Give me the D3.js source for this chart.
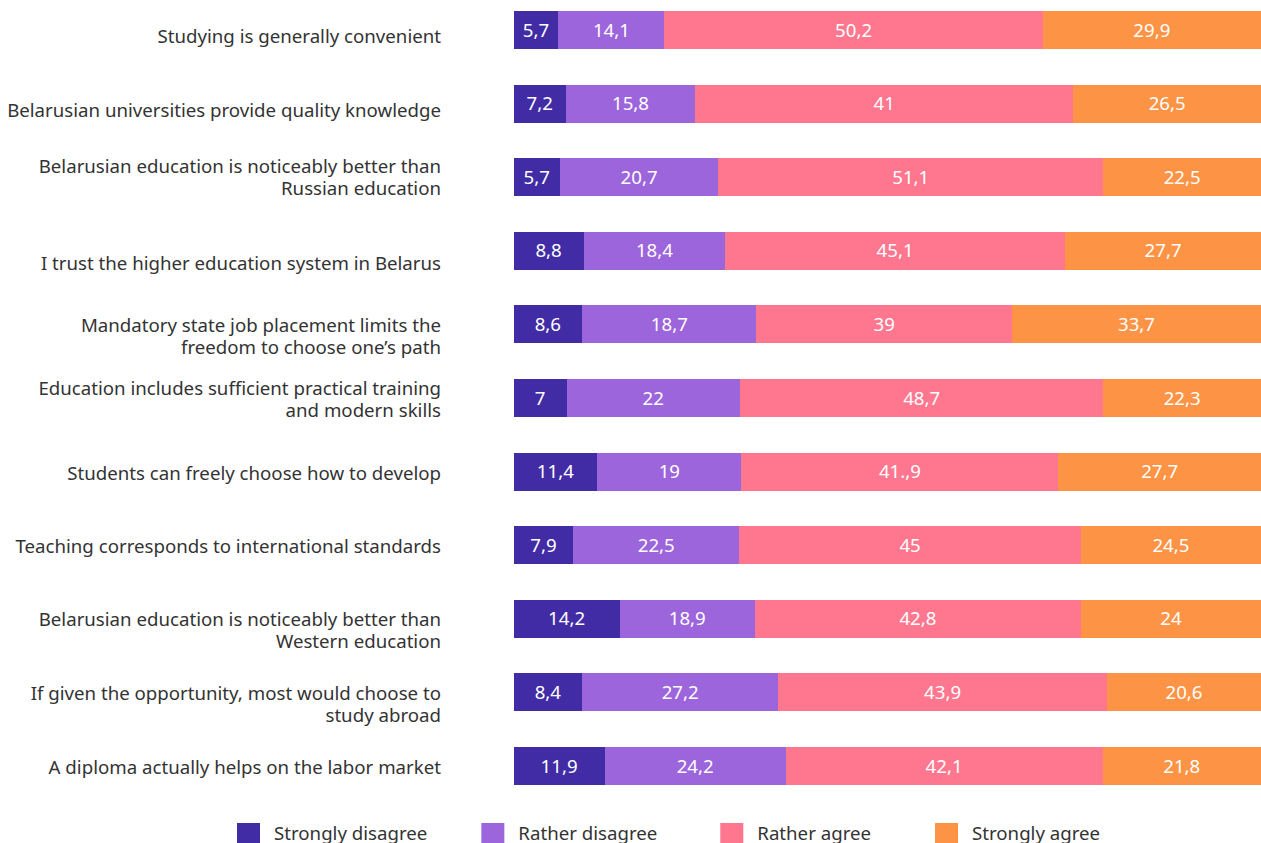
<!DOCTYPE html>
<html>
<head>
<meta charset="utf-8">
<script src="https://cdn.jsdelivr.net/npm/d3@7/dist/d3.min.js"></script>
<style>
  html, body { margin: 0; padding: 0; background: #ffffff; }
  svg { display: block; font-family: "Noto Sans", "Open Sans", sans-serif; }
</style>
</head>
<body>
<svg id="chart" width="1261" height="843"></svg>
<script>
// ---------- DATA ----------
const categories = [
  "Studying is generally convenient",
  "Belarusian universities provide quality knowledge",
  "Belarusian education is noticeably better than\nRussian education",
  "I trust the higher education system in Belarus",
  "Mandatory state job placement limits the\nfreedom to choose one’s path",
  "Education includes sufficient practical training\nand modern skills",
  "Students can freely choose how to develop",
  "Teaching corresponds to international standards",
  "Belarusian education is noticeably better than\nWestern education",
  "If given the opportunity, most would choose to\nstudy abroad",
  "A diploma actually helps on the labor market"
];

const seriesNames = ["Strongly disagree", "Rather disagree", "Rather agree", "Strongly agree"];

// Segment shares (%) as drawn in the picture
const stronglyDisagree = [6.0, 7.0, 6.2, 9.4, 9.2, 7.1, 11.2, 8.0, 14.2, 9.2, 12.2];
const ratherDisagree   = [14.2, 17.3, 21.2, 18.9, 23.3, 23.2, 19.3, 22.2, 18.1, 26.2, 24.2];
const ratherAgree      = [50.6, 50.6, 51.5, 45.5, 34.2, 48.6, 42.4, 45.7, 43.6, 44.0, 42.4];
const stronglyAgree    = [29.2, 25.1, 21.1, 26.2, 33.3, 21.1, 27.1, 24.1, 24.1, 20.6, 21.2];

// Value labels as printed on the bars
const labelsStronglyDisagree = ["5,7", "7,2", "5,7", "8,8", "8,6", "7", "11,4", "7,9", "14,2", "8,4", "11,9"];
const labelsRatherDisagree   = ["14,1", "15,8", "20,7", "18,4", "18,7", "22", "19", "22,5", "18,9", "27,2", "24,2"];
const labelsRatherAgree      = ["50,2", "41", "51,1", "45,1", "39", "48,7", "41.,9", "45", "42,8", "43,9", "42,1"];
const labelsStronglyAgree    = ["29,9", "26,5", "22,5", "27,7", "33,7", "22,3", "27,7", "24,5", "24", "20,6", "21,8"];

// ---------- LAYOUT / STYLE ----------
const colors = ["#412ca6", "#9c65db", "#ff778f", "#fd9445"];
const labelShift = [6, 7, 0, 13, 12, 1, 2, 1, 12, 12, 1];
const legendGaps = [54, 63, 64, 0];
const fontSize = 18.67;
const barLeft = 513.5, barRight = 1261;
const lineHeight = 22;

const seriesValues = [stronglyDisagree, ratherDisagree, ratherAgree, stronglyAgree];
const seriesLabels = [labelsStronglyDisagree, labelsRatherDisagree, labelsRatherAgree, labelsStronglyAgree];

const rows = categories.map((c, i) => {
  const r = { category: c, idx: i };
  seriesNames.forEach((s, k) => { r[s] = seriesValues[k][i]; });
  return r;
});

const stacked = d3.stack().keys(seriesNames)(rows);

const svg = d3.select("#chart");

const x = d3.scaleLinear().domain([0, 100]).range([barLeft, barRight]);
const y = d3.scaleBand()
  .domain(categories)
  .range([11, 785])
  .paddingInner(1 - 38 / 73.6)
  .paddingOuter(0);

// bars
const layers = svg.append("g").selectAll("g")
  .data(stacked)
  .join("g")
  .attr("fill", (d, k) => colors[k]);

layers.selectAll("rect")
  .data(d => d)
  .join("rect")
  .attr("x", d => x(d[0]))
  .attr("y", d => y(d.data.category))
  .attr("width", d => x(d[1]) - x(d[0]) + 0.5)
  .attr("height", y.bandwidth())
  .attr("shape-rendering", "crispEdges");

// value labels
svg.append("g").selectAll("g")
  .data(stacked)
  .join("g")
  .each(function(layer, k) {
    d3.select(this).selectAll("text")
      .data(layer)
      .join("text")
      .attr("x", d => (x(d[0]) + x(d[1])) / 2)
      .attr("y", d => y(d.data.category) + y.bandwidth() / 2)
      .attr("dy", "0.35em")
      .attr("text-anchor", "middle")
      .attr("fill", "#ffffff")
      .attr("font-size", fontSize)
      .text((d, i) => seriesLabels[k][i]);
  });

// category labels (axis)
const yAxis = d3.axisLeft(y).tickSize(0).tickPadding(0).tickFormat(() => "");
const axisG = svg.append("g")
  .attr("transform", `translate(441,0)`)
  .call(yAxis);
axisG.select(".domain").remove();

axisG.selectAll(".tick").each(function(cat, i) {
  const lines = cat.split("\n");
  const t = d3.select(this).select("text")
    .attr("x", 0)
    .attr("text-anchor", "end")
    .attr("fill", "#333333")
    .attr("font-size", fontSize)
    .attr("font-family", "'Noto Sans', 'Open Sans', sans-serif")
    .attr("dy", null)
    .text(null);
  const startDy = -(lines.length - 1) * lineHeight / 2 + labelShift[i];
  lines.forEach((ln, j) => {
    t.append("tspan")
      .attr("x", 0)
      .attr("y", startDy + j * lineHeight)
      .attr("dy", "0.35em")
      .text(ln);
  });
});

// legend
const legend = svg.append("g").attr("transform", "translate(237,823)");
let lx = 0;
seriesNames.forEach((name, k) => {
  const g = legend.append("g").attr("transform", `translate(${lx},0)`);
  g.append("rect").attr("width", 23).attr("height", 20).attr("fill", colors[k]);
  const t = g.append("text")
    .attr("x", 37)
    .attr("y", 10)
    .attr("dy", "0.35em")
    .attr("fill", "#333333")
    .attr("font-size", fontSize)
    .text(name);
  const w = t.node().getComputedTextLength();
  lx += 37 + w + legendGaps[k];
});
</script>
</body>
</html>
